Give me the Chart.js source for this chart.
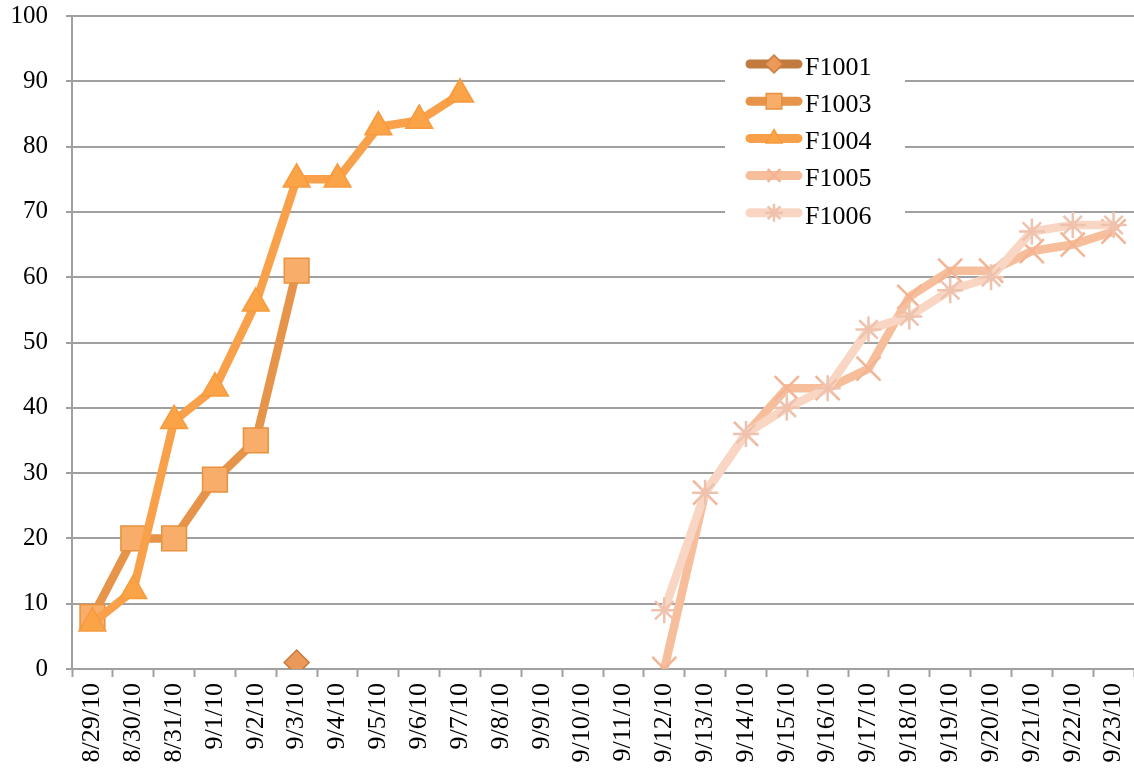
<!DOCTYPE html>
<html>
<head>
<meta charset="utf-8">
<script src="https://cdn.jsdelivr.net/npm/chart.js@4.4.1/dist/chart.umd.min.js"></script>
<style>
    html, body { margin: 0; padding: 0; background: #fff; }
    #wrap { width: 1134px; height: 776px; }
</style>
</head>
<body>
<div id="wrap"><canvas id="lineChart" width="1134" height="776"></canvas></div>
<script>
// dates on the x axis
const categories = ['8/29/10', '8/30/10', '8/31/10', '9/1/10', '9/2/10', '9/3/10', '9/4/10', '9/5/10',
    '9/6/10', '9/7/10', '9/8/10', '9/9/10', '9/10/10', '9/11/10', '9/12/10', '9/13/10', '9/14/10',
    '9/15/10', '9/16/10', '9/17/10', '9/18/10', '9/19/10', '9/20/10', '9/21/10', '9/22/10', '9/23/10'];

// series values (null = no point that day)
const f1001 = [null, null, null, null, null, 1, null, null, null, null, null, null, null,
    null, null, null, null, null, null, null, null, null, null, null, null, null];
const f1003 = [8, 20, 20, 29, 35, 61, null, null, null, null, null, null, null,
    null, null, null, null, null, null, null, null, null, null, null, null, null];
const f1004 = [7, 12, 38, 43, 56, 75, 75, 83, 84, 88, null, null, null,
    null, null, null, null, null, null, null, null, null, null, null, null, null];
const f1005 = [null, null, null, null, null, null, null, null, null, null, null, null, null,
    null, 0, 27, 36, 43, 43, 46, 57, 61, 61, 64, 65, 67];
const f1006 = [null, null, null, null, null, null, null, null, null, null, null, null, null,
    null, 9, 27, 36, 40, 43, 52, 54, 58, 60, 67, 68, 68];

// y axis ticks
const yTicks = [0, 10, 20, 30, 40, 50, 60, 70, 80, 90, 100];

const FONT = '"Liberation Serif", "Times New Roman", serif';

function series(label, data, line, fill, edge, style, radius, order) {
    return {
        label: label,
        data: data,
        borderColor: line,
        borderWidth: 8.5,
        pointStyle: style,
        pointRadius: radius,
        pointHoverRadius: radius,
        pointBackgroundColor: fill,
        pointBorderColor: edge,
        pointBorderWidth: (style === 'crossRot' || style === 'star') ? 2.5 : 1.5,
        tension: 0,
        spanGaps: false,
        order: order
    };
}

const datasets = [
    series('F1001', f1001, '#C27B3E', '#E99A5A', '#C97A3A', 'rectRot', 12.5, 5),
    series('F1003', f1003, '#E5944A', '#F9AD6A', '#E8913F', 'rect', 17.5, 4),
    series('F1004', f1004, '#F9A14A', '#FBA347', '#F69A3E', 'triangle', 15.5, 3),
    series('F1005', f1005, '#F7BE9B', '#F7BE9B', '#F4B493', 'crossRot', 17, 2),
    series('F1006', f1006, '#F8D6C3', '#F8D6C3', '#EFC2AE', 'star', 13, 1)
];

// legend box drawn inside the plot, top right
const legendBox = {
    id: 'legendBox',
    afterDatasetsDraw: function (chart) {
        const ctx = chart.ctx;
        ctx.save();
        ctx.fillStyle = '#fff';
        ctx.fillRect(725, 46, 180, 186);
        datasets.forEach(function (ds, i) {
            const y = 64 + i * 37.2;
            ctx.lineCap = 'round';
            ctx.lineWidth = 9;
            ctx.strokeStyle = ds.borderColor;
            ctx.beginPath();
            ctx.moveTo(750, y);
            ctx.lineTo(798, y);
            ctx.stroke();
            ctx.lineCap = 'butt';
            ctx.fillStyle = ds.pointBackgroundColor;
            ctx.strokeStyle = ds.pointBorderColor;
            ctx.lineWidth = ds.pointBorderWidth;
            Chart.helpers.drawPoint(ctx, {
                pointStyle: ds.pointStyle,
                radius: ds.pointStyle === 'rect' ? 11 : 9,
                rotation: 0,
                borderWidth: ds.pointBorderWidth
            }, 774, y);
            ctx.fillStyle = '#000';
            ctx.font = '26px ' + FONT;
            ctx.textAlign = 'left';
            ctx.textBaseline = 'middle';
            ctx.fillText(ds.label, 805, y + 4);
        });
        ctx.restore();
    }
};

new Chart(document.getElementById('lineChart').getContext('2d'), {
    type: 'line',
    data: {
        labels: categories,
        datasets: datasets
    },
    options: {
        responsive: false,
        animation: false,
        layout: { autoPadding: false, padding: { top: 16, right: 0, left: 0, bottom: 0 } },
        plugins: {
            legend: { display: false },
            tooltip: { enabled: false }
        },
        scales: {
            x: {
                offset: true,
                afterFit: function (scale) {
                    scale.height = 107;
                    scale.paddingRight = 0;
                    scale.paddingLeft = 0;
                },
                grid: {
                    offset: true,
                    drawOnChartArea: false,
                    tickLength: 8,
                    tickWidth: 2,
                    color: '#A0A0A0'
                },
                border: { color: '#A0A0A0', width: 2 },
                ticks: {
                    minRotation: 90,
                    maxRotation: 90,
                    autoSkip: false,
                    padding: 6,
                    color: '#000',
                    font: { family: FONT, size: 26 }
                }
            },
            y: {
                min: 0,
                max: 100,
                afterFit: function (scale) {
                    scale.width = 72;
                    scale.paddingTop = 0;
                    scale.paddingBottom = 0;
                },
                afterBuildTicks: function (scale) {
                    scale.ticks = yTicks.map(v => ({ value: v }));
                },
                grid: {
                    color: '#A0A0A0',
                    lineWidth: 2,
                    tickLength: 6
                },
                border: { color: '#A0A0A0', width: 2 },
                ticks: {
                    padding: 18,
                    color: '#000',
                    font: { family: FONT, size: 25 }
                }
            }
        }
    },
    plugins: [legendBox]
});
</script>
</body>
</html>
